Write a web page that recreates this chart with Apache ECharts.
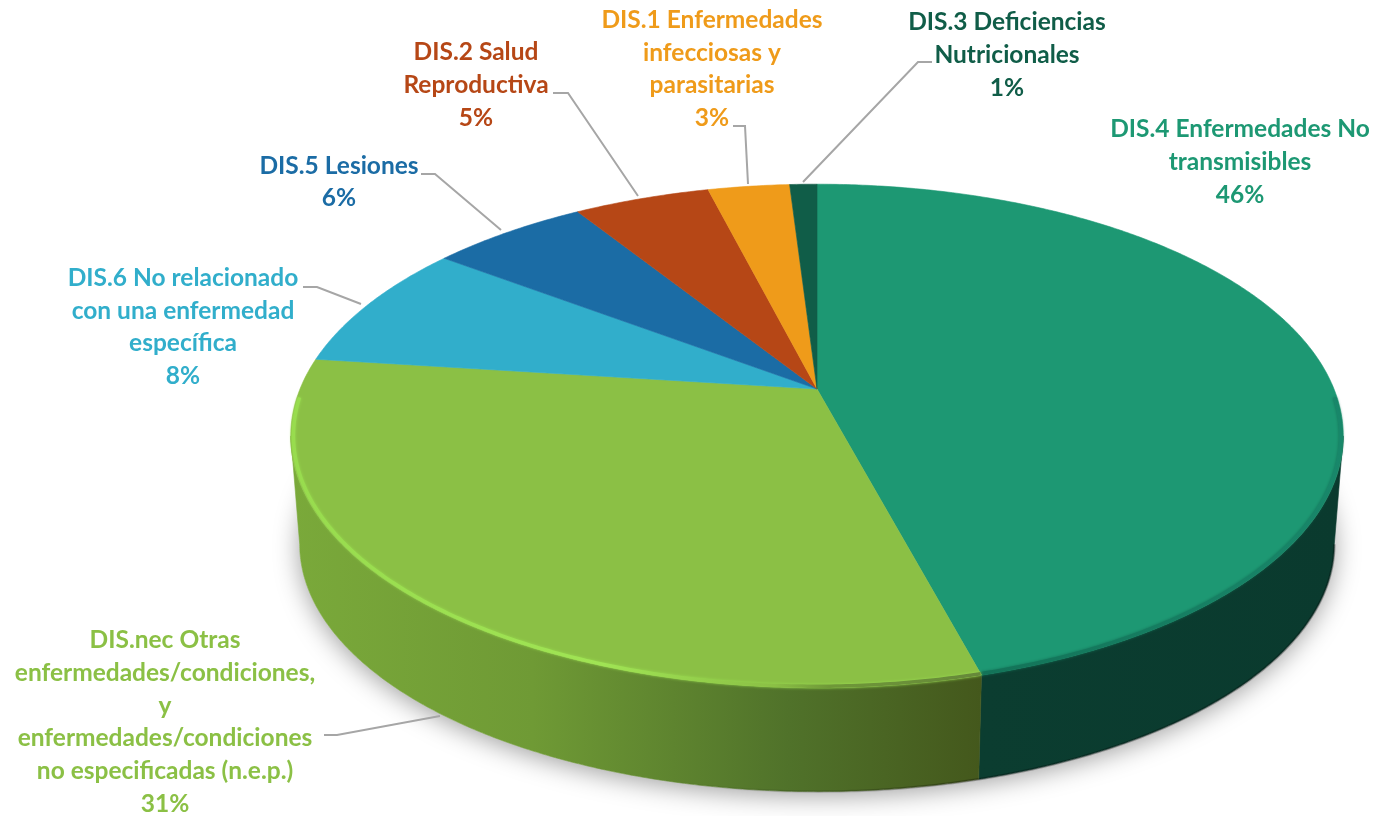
<!DOCTYPE html>
<html>
  <head>
    <meta charset="utf-8" />
    <title>Enfermedades</title>
    <script src="https://cdn.jsdelivr.net/npm/echarts@6/dist/echarts.min.js"></script>
    <style>
      * {
        margin: 0;
        padding: 0;
        box-sizing: border-box;
      }
    </style>
  </head>
  <body>
    <div id="main" style="width: 1376px; height: 816px; background: #fff"></div>
    <script type="text/javascript">
      // clockwise from 12 o'clock
      const categories = [
        "DIS.4 Enfermedades No\ntransmisibles",
        "DIS.nec Otras\nenfermedades/condiciones,\ny\nenfermedades/condiciones\nno especificadas (n.e.p.)",
        "DIS.6 No relacionado\ncon una enfermedad\nespecífica",
        "DIS.5 Lesiones",
        "DIS.2 Salud\nReproductiva",
        "DIS.1 Enfermedades\ninfecciosas y\nparasitarias",
        "DIS.3 Deficiencias\nNutricionales",
      ];
      const values = [45.8, 31.2, 8.2, 5.8, 5, 3, 1];

      const topColors = ["#1d9873", "#8bc045", "#31aecb", "#1b6ca5", "#b64716", "#ef9b1a", "#105d48"];
      const wallStops = [
        [[0, "#0b3d30"], [1, "#0a3a2e"]],
        [[0, "#7aa93a"], [0.35, "#6f9a35"], [0.72, "#50722a"], [1, "#44581c"]],
        [[0, "#217a8e"], [1, "#217a8e"]],
        [[0, "#124c74"], [1, "#124c74"]],
        [[0, "#7f320f"], [1, "#7f320f"]],
        [[0, "#a76c12"], [1, "#a76c12"]],
        [[0, "#0b4132"], [1, "#0b4132"]],
      ];
      const rimStops = [
        [[0, "#137358"], [1, "#18876a"]],
        [[0, "#98dc4e"], [0.45, "#a0e454"], [0.7, "#8bc045"], [0.78, "#6f9838"], [1, "#66883a"]],
        [[0, "#31aecb"], [1, "#31aecb"]],
        [[0, "#1b6ca5"], [1, "#1b6ca5"]],
        [[0, "#b64716"], [1, "#b64716"]],
        [[0, "#ef9b1a"], [1, "#ef9b1a"]],
        [[0, "#105d48"], [1, "#105d48"]],
      ];

      // text block centre, then leader: [startX, startY, elbowX, endX, endY]
      const labelBoxes = [
        [1240, 162, null],
        [165, 722, [324, 735, 337, 440, 716]],
        [183, 327, [303, 287, 317, 361, 304]],
        [339, 182, [421, 174, 435, 501, 230]],
        [476, 85, [553, 93, 568, 638, 196]],
        [712, 69, [733, 126, 745, 748, 184]],
        [1007, 55, [932, 62, 918, 803, 182]],
      ];

      // perspective of the disc
      const cx = 817;
      const cy = 389;
      const rx = 517;
      const ry = 243;
      const persp = 0.1865;
      const depth = 109;
      const baseScale = 0.983;
      // part of the round the wall and rim are seen on
      const wallFrom = (Math.acos(-persp) * 180) / Math.PI;
      const wallTo = 360 - wallFrom;
      const rimFrom = 92;
      const rimTo = 268;
      const rimInset = 0.995;

      function project(deg, isBase) {
        const a = (deg * Math.PI) / 180;
        const w = 1 + persp * Math.cos(a);
        const s = isBase ? baseScale : 1;
        return [
          cx + (s * rx * Math.sin(a)) / w,
          cy + (isBase ? depth : 0) - (s * ry * Math.cos(a)) / w,
        ];
      }

      function arc(from, to, isBase) {
        const pts = [];
        const n = Math.max(2, Math.ceil((to - from) * 2));
        for (let i = 0; i <= n; i++) {
          pts.push(project(from + ((to - from) * i) / n, isBase));
        }
        return pts;
      }

      const total = values.reduce((a, b) => a + b, 0);
      const angles = [];
      let acc = 0;
      values.forEach((v) => {
        angles.push([(acc / total) * 360, ((acc + v) / total) * 360]);
        acc += v;
      });

      function hGradient(stops, x1, x2) {
        return new echarts.graphic.LinearGradient(
          x1,
          0,
          x2,
          0,
          stops.map((s) => ({ offset: s[0], color: s[1] })),
          true
        );
      }

      function renderWall(params) {
        const i = params.dataIndex;
        const from = Math.max(angles[i][0], wallFrom);
        const to = Math.min(angles[i][1], wallTo);
        const children = [];
        if (i === 0) {
          // soft shadow below the whole disc
          children.push({
            type: "polygon",
            shape: { points: arc(0, 360, true) },
            style: {
              fill: "#fff",
              shadowColor: "rgba(0,0,0,0.38)",
              shadowBlur: 26,
              shadowOffsetY: 4,
            },
          });
        }
        if (from < to) {
          const upper = arc(from, to, false);
          const lower = arc(from, to, true);
          const xs = upper.map((p) => p[0]);
          const fill = hGradient(wallStops[i], Math.min(...xs), Math.max(...xs));
          children.push({
            type: "polygon",
            shape: { points: upper.concat(lower.slice().reverse()) },
            style: { fill: fill, stroke: fill, lineWidth: 0.6 },
          });
          children.push({
            type: "polyline",
            shape: { points: lower },
            style: {
              fill: null,
              stroke: hGradient(
                [[0, "rgba(0,0,0,0)"], [0.55, "rgba(0,0,0,0)"], [1, "rgba(0,0,0,0.28)"]],
                300,
                980
              ),
              lineWidth: 2.5,
            },
          });
        }
        return { type: "group", children: children };
      }

      function renderTop(params) {
        const i = params.dataIndex;
        const [from, to] = angles[i];
        const outline = arc(from, to, false);
        const children = [
          {
            type: "polygon",
            shape: { points: [[cx, cy]].concat(outline) },
            style: { fill: topColors[i], stroke: topColors[i], lineWidth: 0.6 },
          },
        ];
        const a = Math.max(from, rimFrom);
        const b = Math.min(to, rimTo);
        if (a < b) {
          const rim = arc(a, b, false).map((p) => [
            cx + (p[0] - cx) * rimInset,
            cy + (p[1] - cy) * rimInset,
          ]);
          const xs = rim.map((p) => p[0]);
          children.push({
            type: "polyline",
            shape: { points: rim },
            style: {
              fill: null,
              stroke: hGradient(rimStops[i], Math.min(...xs), Math.max(...xs)),
              lineWidth: 3.5,
              shadowColor: rimStops[i][0][1],
              shadowBlur: 3,
            },
          });
        }
        return { type: "group", children: children };
      }

      function renderLabel(params) {
        const i = params.dataIndex;
        const box = labelBoxes[i];
        const children = [
          {
            type: "text",
            style: {
              text: categories[i] + "\n" + Math.round(values[i]) + "%",
              x: box[0],
              y: box[1],
              align: "center",
              verticalAlign: "middle",
              fontFamily: "Lato",
              fontWeight: "bold",
              fontSize: 24.5,
              lineHeight: 32.7,
              fill: topColors[i],
            },
          },
        ];
        if (box[2]) {
          const l = box[2];
          children.push({
            type: "polyline",
            shape: { points: [[l[0], l[1]], [l[2], l[1]], [l[3], l[4]]] },
            style: { fill: null, stroke: "#a6a6a6", lineWidth: 2 },
          });
        }
        return { type: "group", children: children };
      }

      var myChart = echarts.init(document.getElementById("main"));
      myChart.setOption({
        animation: false,
        series: [
          { type: "custom", coordinateSystem: "none", z: 1, silent: true, data: values, renderItem: renderWall },
          { type: "custom", coordinateSystem: "none", z: 2, silent: true, data: values, renderItem: renderTop },
          { type: "custom", coordinateSystem: "none", z: 3, silent: true, data: values, renderItem: renderLabel },
        ],
      });
    </script>
  </body>
</html>
